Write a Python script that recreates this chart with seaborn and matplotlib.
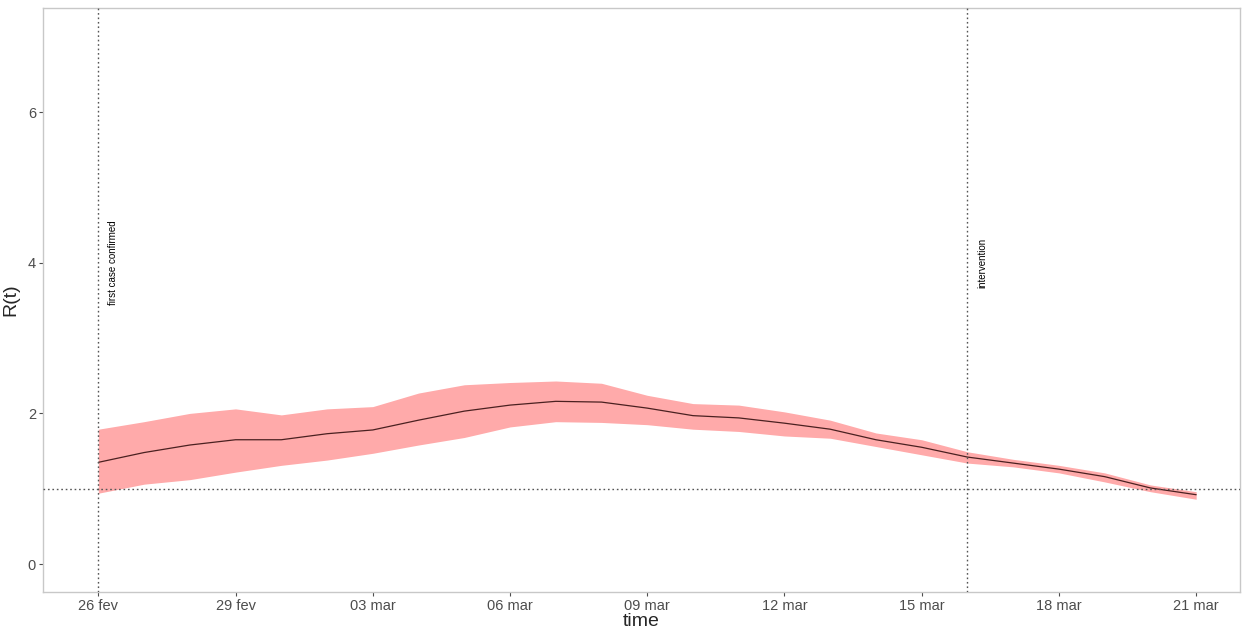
"""R(t) estimate with credible band"""

import pandas as pd
import matplotlib
matplotlib.use("Agg")
import matplotlib.pyplot as plt
import seaborn as sns

# daily estimates, 26 fev .. 21 mar 2020
dates = pd.date_range("2020-02-26", "2020-03-21", freq="D")
r_mean = [1.35, 1.48, 1.58, 1.65, 1.65, 1.73, 1.78, 1.91, 2.03, 2.11, 2.16, 2.15,
          2.07, 1.97, 1.94, 1.87, 1.79, 1.65, 1.55, 1.42, 1.34, 1.26, 1.16, 1.01, 0.92]
r_upper = [1.79, 1.89, 2.00, 2.06, 1.98, 2.06, 2.09, 2.27, 2.38, 2.41, 2.43, 2.40,
           2.24, 2.13, 2.11, 2.02, 1.91, 1.74, 1.65, 1.49, 1.39, 1.31, 1.21, 1.05, 0.96]
r_lower = [0.94, 1.06, 1.12, 1.22, 1.31, 1.38, 1.47, 1.58, 1.68, 1.82, 1.89, 1.88,
           1.85, 1.79, 1.76, 1.70, 1.67, 1.56, 1.45, 1.34, 1.29, 1.21, 1.09, 0.96, 0.86]

tick_dates = pd.to_datetime(["2020-02-26", "2020-02-29", "2020-03-03", "2020-03-06",
                             "2020-03-09", "2020-03-12", "2020-03-15", "2020-03-18",
                             "2020-03-21"])
tick_labels = ["26 fev", "29 fev", "03 mar", "06 mar", "09 mar", "12 mar",
               "15 mar", "18 mar", "21 mar"]

events = pd.to_datetime(["2020-02-26", "2020-03-16"])
event_labels = ["first case confirmed", "intervention"]

df = pd.DataFrame({"time": dates, "mean": r_mean, "upper": r_upper, "lower": r_lower})

sns.set_style("white")
plt.rcParams["font.family"] = ["Liberation Sans", "DejaVu Sans"]
fig = plt.figure(figsize=(12.44, 6.31), dpi=100)
ax = fig.add_axes([0.0346, 0.062, 0.9622, 0.925])

ax.fill_between(df["time"], df["lower"], df["upper"], color="#ffaaaa", lw=0, zorder=1)
sns.lineplot(data=df, x="time", y="mean", ax=ax, color="#4a2020", lw=0.9, zorder=2)

ax.axhline(1, color="#555555", ls=(0, (1.2, 2.0)), lw=1.0, zorder=3)
for d, lab in zip(events, event_labels):
    ax.axvline(d, color="#555555", ls=(0, (1.2, 2.0)), lw=1.0, zorder=3)
    ax.text(d + pd.Timedelta(hours=5), 4.0, lab, rotation=90, fontsize=7,
            ha="left", va="center", color="black")

ax.set_xlim(pd.Timestamp("2020-02-24 19:00"), pd.Timestamp("2020-03-21 23:00"))
ax.set_ylim(-0.37, 7.38)
ax.set_yticks([0, 2, 4, 6])
ax.set_xticks(tick_dates)
ax.set_xticklabels(tick_labels)

ax.tick_params(axis="both", colors="#4d4d4d", labelsize=10.5, length=3, width=0.8,
               direction="out", bottom=True, left=True, pad=2)
for s in ax.spines.values():
    s.set_color("#c8c8c8")
    s.set_linewidth(1.0)

ax.set_xlabel("time", fontsize=14, labelpad=0)
ax.set_ylabel("R(t)", fontsize=14, labelpad=6)

fig.savefig("out.png", dpi=100)
